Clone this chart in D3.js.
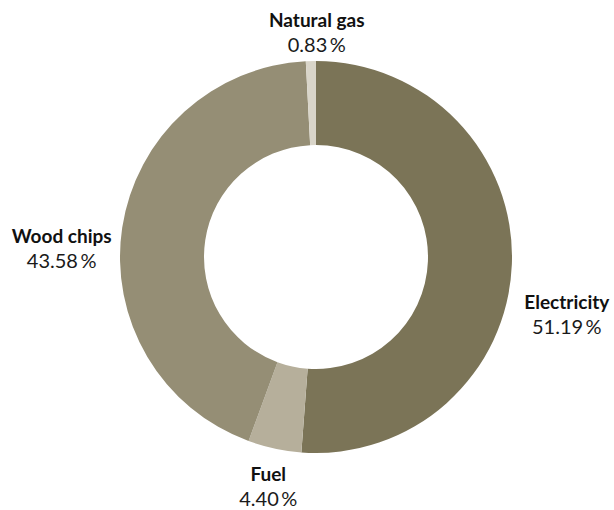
<!DOCTYPE html>
<html><head><meta charset="utf-8">
<script src="https://cdn.jsdelivr.net/npm/d3@7"></script>
<style>
html,body{margin:0;padding:0;background:#fff;}
svg{display:block;}
</style></head>
<body>
<svg id="chart" width="614" height="510"></svg>
<script>
const categories = ["Electricity", "Fuel", "Wood chips", "Natural gas"];
const values = [51.19, 4.40, 43.58, 0.83];
const valueLabels = ["51.19", "4.40", "43.58", "0.83"];

const colors = ["#7b7457", "#b6af9b", "#958e75", "#d9d5c9"];
const W = 614, H = 510, cx = 316, cy = 257, R = 196, r0 = 112;
const labelR = 240;
const labelNudge = {"Electricity": [11, 47], "Fuel": [3, -7], "Wood chips": [-17, 26], "Natural gas": [7, 14]};

const data = categories.map((c, i) => ({name: c, value: values[i], label: valueLabels[i], color: colors[i]}));
const svg = d3.select("#chart");
const g = svg.append("g").attr("transform", `translate(${cx},${cy})`);
const pie = d3.pie().sort(null).value(d => d.value);
const arc = d3.arc().innerRadius(r0).outerRadius(R);
const arcs = pie(data);

g.selectAll("path").data(arcs).join("path")
  .attr("d", arc).attr("fill", d => d.data.color);

const lab = g.selectAll("g.lab").data(arcs).join("g").attr("class", "lab")
  .attr("transform", d => {
    const a = (d.startAngle + d.endAngle) / 2;
    const n = labelNudge[d.data.name] || [0, 0];
    return `translate(${Math.sin(a) * labelR + n[0]},${-Math.cos(a) * labelR + n[1]})`;
  });
lab.append("text").attr("text-anchor", "middle").attr("y", -4)
  .style("font-family", "Lato, 'Open Sans', sans-serif").style("font-weight", 700)
  .style("font-size", "19px").attr("fill", "#111").text(d => d.data.name);
lab.append("text").attr("text-anchor", "middle").attr("y", 21)
  .style("font-family", "Lato, 'Open Sans', sans-serif").style("font-weight", 400)
  .style("font-size", "20px").attr("fill", "#1a1a1a").text(d => d.data.label + "\u2009%");
</script>
</body></html>
